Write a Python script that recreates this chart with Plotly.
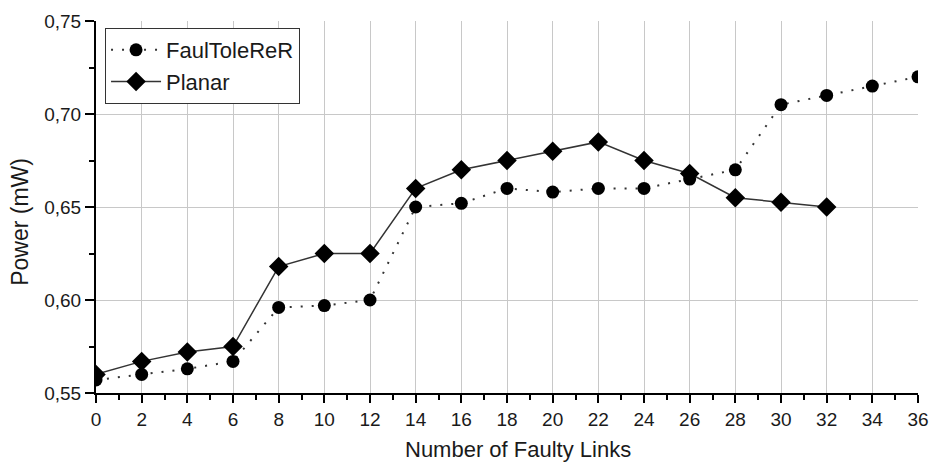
import plotly.graph_objects as go

x_faul = [0, 2, 4, 6, 8, 10, 12, 14, 16, 18, 20, 22, 24, 26, 28, 30, 32, 34, 36]
y_faul = [0.557, 0.560, 0.563, 0.567, 0.596, 0.597, 0.600, 0.650, 0.652, 0.660,
          0.658, 0.660, 0.660, 0.665, 0.670, 0.705, 0.710, 0.715, 0.720]

x_planar = [0, 2, 4, 6, 8, 10, 12, 14, 16, 18, 20, 22, 24, 26, 28, 30, 32]
y_planar = [0.560, 0.567, 0.572, 0.575, 0.618, 0.625, 0.625, 0.660, 0.670, 0.675,
            0.680, 0.685, 0.675, 0.668, 0.655, 0.6525, 0.650]

x_ticks = list(range(0, 37, 2))
y_ticks = [0.55, 0.60, 0.65, 0.70, 0.75]
y_tick_labels = ["0,55", "0,60", "0,65", "0,70", "0,75"]

x_title = "Number of Faulty Links"
y_title = "Power (mW)"

FONT = "Liberation Sans, Arial, sans-serif"
TXT = "#1a1a1a"

fig = go.Figure()
fig.add_trace(go.Scatter(
    x=x_faul, y=y_faul, name="FaulToleReR", mode="lines+markers",
    line=dict(color="#333333", width=2, dash="2px,9px"),
    marker=dict(symbol="circle", size=13, color="black"),
))
fig.add_trace(go.Scatter(
    x=x_planar, y=y_planar, name="Planar", mode="lines+markers",
    line=dict(color="#333333", width=1.5),
    marker=dict(symbol="diamond", size=15, color="black"),
))

fig.update_layout(
    width=934, height=462,
    margin=dict(l=96, r=16, t=21, b=69),
    paper_bgcolor="white", plot_bgcolor="white",
    font=dict(family=FONT, color=TXT),
    showlegend=True,
    legend=dict(
        x=0.011, y=0.981, xanchor="left", yanchor="top",
        bgcolor="white", bordercolor="#333333", borderwidth=1,
        font=dict(size=22, family=FONT, color=TXT),
        tracegroupgap=0, itemwidth=50,
    ),
    xaxis=dict(
        range=[0, 36], tickmode="array", tickvals=x_ticks,
        showgrid=True, gridcolor="#c8c8c8", gridwidth=1,
        showline=True, linecolor="black", linewidth=2,
        ticks="outside", ticklen=8, tickwidth=2, tickcolor="black",
        minor=dict(dtick=1, tick0=0, ticks="outside", ticklen=5, tickwidth=2, tickcolor="black", showgrid=False),
        tickfont=dict(size=19, family=FONT, color=TXT),
        zeroline=False, automargin=False,
    ),
    yaxis=dict(
        range=[0.55, 0.75], tickmode="array", tickvals=y_ticks, ticktext=y_tick_labels,
        showgrid=True, gridcolor="#c8c8c8", gridwidth=1,
        showline=True, linecolor="black", linewidth=2,
        ticks="outside", ticklen=9, tickwidth=2, tickcolor="black",
        minor=dict(dtick=0.025, tick0=0.55, ticks="outside", ticklen=5, tickwidth=2, tickcolor="black", showgrid=False),
        tickfont=dict(size=19, family=FONT, color=TXT),
        zeroline=False, automargin=False,
    ),
    annotations=[
        dict(text=x_title, xref="paper", yref="paper", x=0.513, y=-0.153,
             xanchor="center", yanchor="middle", showarrow=False,
             font=dict(size=22, family=FONT, color=TXT)),
        dict(text=y_title, xref="paper", yref="paper", x=-0.0925, y=0.46,
             xanchor="center", yanchor="middle", showarrow=False, textangle=-90,
             font=dict(size=23, family=FONT, color=TXT)),
    ],
)

fig.write_html(
    "out.html",
    config={"displayModeBar": False},
    post_script="document.body.style.margin='0';document.body.style.overflow='hidden';",
)
